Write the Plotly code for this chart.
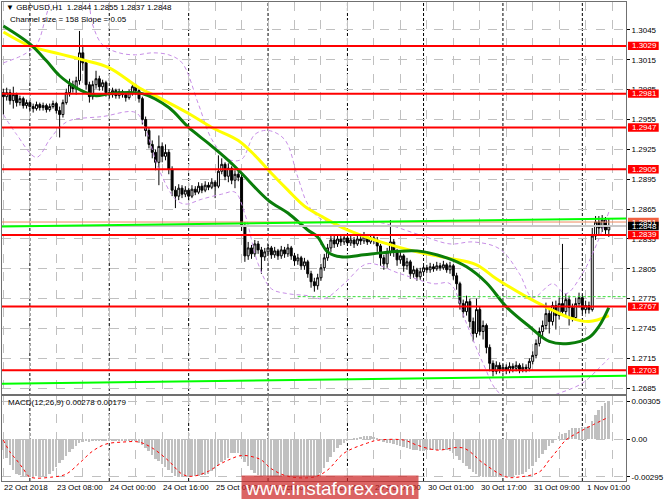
import plotly.graph_objects as go

# ---- candles, GBPUSD H1, prices in 1e-4 units ----
opens = [12982, 12978, 12982, 12974, 12980, 12972, 12976, 12969, 12972, 12968, 12966, 12970, 12967, 12969, 12965, 12968,
         12971, 12964, 12960, 12972, 12982, 12990, 12986, 12994, 13022, 13012, 12990, 12978, 12990, 12996, 12988, 12992,
         12982, 12980, 12984, 12979, 12983, 12980, 12977, 12982, 12988, 12984, 12976, 12955, 12944, 12930, 12922, 12912,
         12928, 12918, 12922, 12905, 12884, 12878, 12886, 12880, 12884, 12878, 12885, 12882, 12888, 12884, 12889, 12887,
         12892, 12888, 12903, 12910, 12898, 12906, 12894, 12900, 12897, 12848, 12818, 12826, 12820, 12830, 12824, 12817,
         12822, 12826, 12819, 12823, 12818, 12824, 12820, 12826, 12818, 12813, 12816, 12808, 12812, 12800, 12792, 12788,
         12796, 12806, 12816, 12826, 12834, 12830, 12835, 12832, 12836, 12831, 12834, 12830, 12835, 12833, 12837, 12832,
         12836, 12834, 12828, 12816, 12810, 12822, 12832, 12822, 12814, 12818, 12808, 12812, 12800, 12804, 12797, 12802,
         12806, 12804, 12807, 12805, 12808, 12806, 12809, 12804, 12808, 12798, 12790, 12770, 12762, 12772, 12752, 12740,
         12764, 12742, 12748, 12726, 12710, 12702, 12708, 12704, 12706, 12703, 12707, 12705, 12708, 12704, 12706, 12705,
         12712, 12718, 12730, 12742, 12748, 12760, 12752, 12768, 12758, 12770, 12762, 12774, 12766, 12756, 12770, 12776,
         12764, 12768, 12764, 12838, 12852, 12846, 12854, 12844]
highs = [12986, 12987, 12985, 12988, 12982, 12979, 12978, 12975, 12974, 12971, 12973, 12972, 12972, 12971, 12971, 12974,
         12973, 12968, 12975, 12986, 12996, 12994, 12998, 13044, 13028, 13015, 12993, 12994, 13004, 12999, 12995, 12994,
         12985, 12987, 12986, 12986, 12985, 12982, 12985, 12992, 12991, 12987, 12978, 12958, 12947, 12934, 12925, 12939,
         12932, 12930, 12925, 12908, 12888, 12890, 12889, 12888, 12886, 12889, 12888, 12892, 12891, 12893, 12892, 12896,
         12894, 12919, 12916, 12912, 12911, 12908, 12904, 12905, 12900, 12852, 12832, 12829, 12834, 12833, 12827, 12826,
         12830, 12828, 12827, 12825, 12828, 12827, 12830, 12828, 12821, 12820, 12818, 12816, 12814, 12803, 12796, 12800,
         12810, 12820, 12830, 12838, 12838, 12839, 12838, 12840, 12839, 12838, 12837, 12839, 12838, 12842, 12840, 12840,
         12839, 12837, 12830, 12819, 12826, 12854, 12835, 12825, 12822, 12820, 12816, 12814, 12808, 12806, 12806, 12809,
         12809, 12811, 12810, 12812, 12811, 12813, 12811, 12812, 12810, 12801, 12792, 12774, 12778, 12775, 12756, 12775,
         12767, 12753, 12750, 12729, 12713, 12712, 12711, 12709, 12709, 12711, 12710, 12712, 12710, 12710, 12709, 12715,
         12722, 12734, 12746, 12753, 12771, 12764, 12772, 12773, 12776, 12830, 12780, 12778, 12770, 12776, 12781, 12779,
         12773, 12772, 12846, 12858, 12858, 12859, 12857, 12855]
lows = [12960, 12974, 12970, 12966, 12968, 12969, 12966, 12966, 12963, 12962, 12964, 12964, 12964, 12962, 12963, 12966,
        12961, 12937, 12957, 12970, 12978, 12982, 12980, 12990, 13004, 12985, 12972, 12975, 12986, 12984, 12984, 12978,
        12976, 12977, 12976, 12976, 12977, 12973, 12975, 12979, 12980, 12972, 12950, 12938, 12926, 12916, 12904, 12889,
        12912, 12914, 12900, 12878, 12866, 12874, 12876, 12877, 12874, 12876, 12879, 12880, 12881, 12882, 12884, 12885,
        12876, 12886, 12900, 12894, 12892, 12890, 12886, 12893, 12843, 12812, 12814, 12815, 12817, 12820, 12800, 12813,
        12818, 12815, 12816, 12814, 12815, 12816, 12817, 12814, 12808, 12809, 12804, 12804, 12796, 12786, 12782, 12784,
        12793, 12803, 12813, 12822, 12826, 12827, 12828, 12829, 12828, 12828, 12826, 12828, 12829, 12830, 12829, 12830,
        12830, 12822, 12808, 12804, 12806, 12818, 12817, 12808, 12810, 12802, 12804, 12795, 12796, 12793, 12794, 12799,
        12801, 12801, 12802, 12803, 12803, 12804, 12801, 12800, 12794, 12784, 12764, 12756, 12758, 12746, 12732, 12736,
        12738, 12734, 12720, 12702, 12697, 12699, 12700, 12701, 12699, 12700, 12701, 12702, 12700, 12701, 12701, 12702,
        12709, 12715, 12727, 12736, 12744, 12740, 12748, 12744, 12754, 12758, 12758, 12748, 12752, 12753, 12766, 12760,
        12760, 12760, 12762, 12834, 12840, 12842, 12840, 12837]
closes = [12978, 12982, 12974, 12980, 12972, 12976, 12969, 12972, 12968, 12966, 12970, 12967, 12969, 12965, 12968, 12971,
          12964, 12960, 12972, 12982, 12990, 12986, 12994, 13022, 13012, 12990, 12978, 12990, 12996, 12988, 12992, 12982,
          12980, 12984, 12979, 12983, 12980, 12977, 12982, 12988, 12984, 12976, 12955, 12944, 12930, 12922, 12912, 12928,
          12918, 12922, 12905, 12884, 12878, 12886, 12880, 12884, 12878, 12885, 12882, 12888, 12884, 12889, 12887, 12892,
          12888, 12903, 12910, 12898, 12906, 12894, 12900, 12897, 12848, 12818, 12826, 12820, 12830, 12824, 12817, 12822,
          12826, 12819, 12823, 12818, 12824, 12820, 12826, 12818, 12813, 12816, 12808, 12812, 12800, 12792, 12788, 12796,
          12806, 12816, 12826, 12834, 12830, 12835, 12832, 12836, 12831, 12834, 12830, 12835, 12833, 12837, 12832, 12836,
          12834, 12828, 12816, 12810, 12822, 12832, 12822, 12814, 12818, 12808, 12812, 12800, 12804, 12797, 12802, 12806,
          12804, 12807, 12805, 12808, 12806, 12809, 12804, 12808, 12798, 12790, 12770, 12762, 12772, 12752, 12740, 12764,
          12742, 12748, 12726, 12710, 12702, 12708, 12704, 12706, 12703, 12707, 12705, 12708, 12704, 12706, 12705, 12712,
          12718, 12730, 12742, 12748, 12760, 12752, 12768, 12758, 12770, 12762, 12774, 12766, 12756, 12770, 12776, 12764,
          12768, 12764, 12838, 12852, 12846, 12854, 12844, 12848]

# ---- moving averages (bar index, price 1e-4) ----
ma_green_bar = [0, 8, 13, 17, 22, 25, 28, 32, 39, 42, 50, 56, 62, 68, 72, 80, 86, 92, 95, 98, 102, 109, 114, 125, 134,
                140, 146, 152, 159, 165, 171, 177, 180, 183]
ma_green_val = [13049, 13031, 13014, 12999, 12987, 12982, 12979, 12981, 12982, 12981, 12967, 12947, 12931, 12914, 12901,
                12874, 12861, 12844, 12837, 12822, 12817, 12819, 12821, 12823, 12816, 12807, 12791, 12767, 12747, 12732,
                12730, 12736, 12747, 12766]
ma_yellow_bar = [0, 8, 17, 24, 32, 41, 47, 56, 63, 71, 76, 81, 86, 91, 96, 104, 114, 125, 134, 143, 149, 158, 165, 171,
                 177, 183]
ma_yellow_val = [13043, 13029, 13021, 13015, 13007, 12987, 12977, 12961, 12947, 12934, 12919, 12901, 12884, 12868, 12858,
                 12844, 12832, 12822, 12816, 12809, 12795, 12777, 12765, 12756, 12752, 12758]

# ---- bollinger bands (violet dashed) ----
bb_up_bar = [0, 6, 10, 13, 16, 24, 27, 30, 35, 40, 45, 50, 54, 59, 63, 68, 72, 76, 80, 85, 89, 92, 96, 103, 113, 125,
             135, 142, 150, 156, 160, 166, 170, 175, 180, 183]
bb_up_val = [13012, 13020, 13030, 13060, 13090, 13095, 13050, 13030, 13022, 13020, 13022, 13020, 13012, 12970, 12935,
             12915, 12915, 12940, 12944, 12935, 12897, 12870, 12855, 12852, 12852, 12840, 12830, 12832, 12825, 12800,
             12776, 12790, 12780, 12800, 12835, 12862]
bb_lo_bar = [0, 4, 10, 14, 17, 20, 30, 40, 43, 47, 52, 55, 60, 66, 70, 73, 77, 81, 86, 92, 97, 103, 110, 120, 130, 135,
             140, 145, 150, 160, 168, 175, 180, 183]
bb_lo_val = [12960, 12940, 12917, 12935, 12947, 12954, 12958, 12962, 12945, 12905, 12875, 12870, 12875, 12880, 12882,
             12860, 12810, 12785, 12780, 12778, 12775, 12790, 12810, 12800, 12790, 12790, 12750, 12710, 12680, 12672,
             12680, 12690, 12705, 12715]

# ---- MACD(12,26,9), 1e-5 units ----
macd_hist = [-82, -145, -200, -240, -272, -285, -292, -295, -295, -294, -293, -290, -288, -288, -272, -248,
             -216, -185, -161, -130, -98, -74, -51, -27, -19, -15, -18, -16, -12, -12, -10, -12,
             -13, -12, -13, -12, -13, -15, -14, -10, -11, -27, -43, -66, -90, -122, -153, -169,
             -193, -216, -240, -264, -288, -295, -295, -295, -294, -292, -290, -288, -285, -280, -275, -248,
             -232, -209, -177, -161, -145, -110, -106, -108, -137, -177, -209, -240, -264, -280, -290, -293,
             -295, -295, -295, -295, -294, -293, -293, -292, -292, -293, -294, -295, -295, -295, -295, -288,
             -264, -224, -177, -137, -98, -66, -43, -27, -11, -3, 5, 13, 20, 28, 28, 28,
             20, 13, -3, -19, -27, -27, -35, -43, -51, -58, -66, -74, -82, -82, -90, -90,
             -85, -84, -82, -80, -80, -80, -82, -90, -106, -130, -161, -185, -209, -232, -256, -272,
             -288, -295, -295, -295, -295, -295, -295, -294, -292, -290, -288, -285, -282, -272, -256, -232,
             -209, -177, -145, -114, -82, -51, -27, -3, 28, 44, 52, 76, 92, 92, 92, 100,
             100, 107, 147, 194, 234, 265, 290, 305]
sig_bar = [0, 2, 4, 6, 8, 15, 19, 23, 27, 31, 36, 41, 45, 50, 54, 57, 62, 65, 68, 72, 76, 78, 81, 86, 94, 98, 103, 110,
           113, 121, 125, 131, 139, 145, 152, 156, 162, 165, 168, 170, 174, 178, 183]
sig_val = [-3, -98, -161, -230, -295, -295, -272, -185, -90, -35, -19, -19, -66, -169, -272, -290, -250, -200, -161,
           -125, -140, -161, -230, -290, -295, -240, -106, -27, -5, -3, -43, -82, -66, -185, -295, -295, -256, -161, -66,
           -3, 60, 115, 179]

levels = [1.3029, 1.2981, 1.2947, 1.2905, 1.2839, 1.2767, 1.2703]
price_ticks = [1.2685, 1.2715, 1.2745, 1.2775, 1.2805, 1.2835, 1.2865, 1.2895, 1.2925, 1.2955, 1.2985, 1.3015, 1.3045]
time_bars = [0, 16, 32, 48, 64, 80, 96, 112, 128, 144, 160, 176]
time_labels = ["22 Oct 2018", "23 Oct 08:00", "24 Oct 00:00", "24 Oct 16:00", "25 Oct 08:00", "26 Oct 00:00",
               "26 Oct 16:00", "29 Oct 09:00", "30 Oct 01:00", "30 Oct 17:00", "31 Oct 09:00", "1 Nov 01:00"]
day_bars = [8, 32, 56, 80, 104, 127, 151, 175]

FONT = "Liberation Sans, Arial, sans-serif"


def px(x):
    return (x - 2) / 629


def py(y):
    return (481 - y) / 480


def p(v):
    return [a / 10000 for a in v]


bars = list(range(len(closes)))
fig = go.Figure()

fig.add_trace(go.Candlestick(
    x=bars, open=p(opens), high=p(highs), low=p(lows), close=p(closes),
    increasing=dict(line=dict(color="black", width=1), fillcolor="white"),
    decreasing=dict(line=dict(color="black", width=1), fillcolor="black"),
    whiskerwidth=0, showlegend=False, hoverinfo="skip"))

for xb, yv in [(bb_up_bar, bb_up_val), (bb_lo_bar, bb_lo_val)]:
    fig.add_trace(go.Scatter(x=xb, y=p(yv), mode="lines", line=dict(color="#c78ee6", width=1, dash="4px,3px",
                                                                      shape="spline"), showlegend=False))

fig.add_trace(go.Scatter(x=ma_yellow_bar, y=p(ma_yellow_val), mode="lines",
                         line=dict(color="#ffff00", width=3, shape="spline"), showlegend=False))
fig.add_trace(go.Scatter(x=ma_green_bar, y=p(ma_green_val), mode="lines",
                         line=dict(color="#0a7d0a", width=3, shape="spline"), showlegend=False))

# MACD pane
fig.add_trace(go.Bar(x=bars, y=[v / 100000 for v in macd_hist], width=0.6, marker=dict(color="#c0c0c0", line_width=0),
                     xaxis="x2", yaxis="y2", showlegend=False))
fig.add_trace(go.Scatter(x=sig_bar, y=[v / 100000 for v in sig_val], mode="lines", xaxis="x2", yaxis="y2",
                         line=dict(color="#ff0000", width=1, dash="dot", shape="spline"), showlegend=False))

shapes = []
# day separators
for b in day_bars:
    shapes.append(dict(type="line", xref="x", yref="paper", x0=b, x1=b, y0=0, y1=1,
                       line=dict(color="black", width=1, dash="3px,2px"), layer="below"))
# bid / ask style lines and regression channel
shapes.append(dict(type="line", xref="paper", yref="y", x0=0, x1=1, y0=1.2852, y1=1.2852,
                   line=dict(color="#f08a60", width=1), layer="above"))
shapes.append(dict(type="line", xref="paper", yref="y", x0=0, x1=1, y0=1.2848, y1=1.2848,
                   line=dict(color="#c8c8c8", width=2), layer="above"))
shapes.append(dict(type="line", xref="paper", yref="y", x0=0, x1=1, y0=1.28474, y1=1.28555,
                   line=dict(color="#00ff00", width=2), layer="above"))
shapes.append(dict(type="line", xref="paper", yref="y", x0=0, x1=1, y0=1.26894, y1=1.26975,
                   line=dict(color="#00ff00", width=2), layer="above"))
shapes.append(dict(type="line", xref="paper", yref="y", x0=px(300), x1=1, y0=1.2777, y1=1.2777,
                   line=dict(color="#33dd33", width=1, dash="3px,2px"), layer="above"))
for lv in levels:
    shapes.append(dict(type="line", xref="paper", yref="y", x0=0, x1=1, y0=lv, y1=lv,
                       line=dict(color="#ff0000", width=2), layer="above"))

annotations = []


def price_box(level, color, label=None, txt_color="white"):
    shapes.append(dict(type="rect", xref="paper", yref="y", x0=px(633), x1=px(664),
                       y0=level - 0.00042, y1=level + 0.00042, fillcolor=color, line=dict(width=0), layer="above"))
    annotations.append(dict(xref="paper", yref="y", x=px(635), y=level, text=label or f"{level:.4f}",
                            showarrow=False, xanchor="left", yanchor="middle",
                            font=dict(family=FONT, size=8, color=txt_color)))


for lv in levels:
    price_box(lv, "#ff0000")
# ask label, mostly hidden behind the bid label
price_box(1.2852, "#f06040", label="1.2851")
price_box(1.2848, "#000000")

annotations.append(dict(xref="paper", yref="paper", x=px(4), y=py(7), xanchor="left", yanchor="middle",
                        showarrow=False, text="▼ GBPUSD,H1\u00a0\u00a01.2844 1.2855 1.2837 1.2848",
                        font=dict(family=FONT, size=8, color="black")))
annotations.append(dict(xref="paper", yref="paper", x=px(8), y=py(19), xanchor="left", yanchor="middle",
                        showarrow=False, text="Channel size = 158 Slope = 0.05",
                        font=dict(family=FONT, size=8, color="black")))
annotations.append(dict(xref="paper", yref="paper", x=px(6), y=py(402), xanchor="left", yanchor="middle",
                        showarrow=False, text="MACD(12,26,9) 0.00278 0.00179",
                        font=dict(family=FONT, size=8, color="black")))
for b, t in zip(time_bars, time_labels):
    annotations.append(dict(xref="x", yref="paper", x=b, y=py(488), xanchor="left", yanchor="middle", xshift=-1,
                            showarrow=False, text=t, font=dict(family=FONT, size=8, color="black")))
annotations.append(dict(xref="paper", yref="paper", x=px(333), y=py(488), xanchor="center", yanchor="middle",
                        showarrow=False, text="www.instaforex.com", width=176, height=24, borderpad=0,
                        bgcolor="rgba(205,40,40,0.72)", font=dict(family=FONT, size=19, color="white")))

axis_common = dict(showgrid=True, gridcolor="#c0c0c0", griddash="dash", gridwidth=1, zeroline=False,
                   showline=True, linecolor="#707070", linewidth=1, mirror=True)

fig.update_layout(
    width=665, height=499,
    margin=dict(l=2, r=34, t=1, b=18),
    paper_bgcolor="white", plot_bgcolor="white",
    showlegend=False, bargap=0, boxgap=0.15,
    xaxis=dict(domain=[0, 1], anchor="y", range=[-0.42, 188.2], tickvals=list(range(0, 189, 8)),
               showticklabels=False, ticks="", rangeslider=dict(visible=False), **axis_common),
    yaxis=dict(domain=[0.18125, 1], anchor="x", side="right", range=[1.26790, 1.30731], tickvals=price_ticks,
               ticktext=[f"{v:.4f}" for v in price_ticks], ticks="outside", ticklen=3, tickcolor="black",
               tickfont=dict(family=FONT, size=8, color="black"), **axis_common),
    xaxis2=dict(domain=[0, 1], anchor="y2", matches="x", range=[-0.42, 188.2], tickvals=list(range(0, 189, 8)),
                showticklabels=False, ticks="", **axis_common),
    yaxis2=dict(domain=[0, 0.177], anchor="x2", side="right", range=[-0.00327, 0.00344],
                tickvals=[-0.00295, 0, 0.00305], ticktext=["-0.00295", "0.00", "0.00305"], ticks="outside",
                ticklen=3, tickcolor="black", tickfont=dict(family=FONT, size=8, color="black"), **axis_common),
    shapes=shapes, annotations=annotations,
)

# the page's default body margin would shift the 665x499 figure; remove it
fig.write_html("out.html", config={"displayModeBar": False},
               post_script="document.body.style.margin='0';document.body.style.overflow='hidden';")
